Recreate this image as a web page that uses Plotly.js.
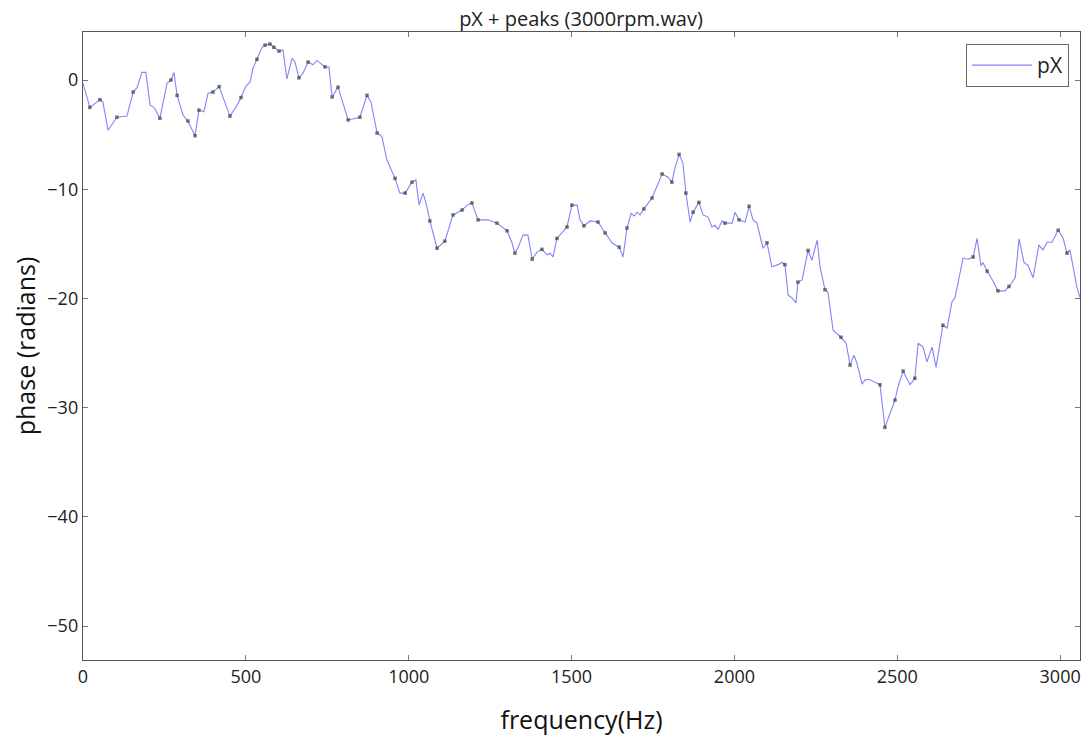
<!DOCTYPE html>
<html>
<head>
<meta charset="utf-8">
<script src="https://cdn.plot.ly/plotly-3.0.1.min.js"></script>
<style>
  html, body { margin: 0; padding: 0; background: #fff; }
  #chart { width: 1086px; height: 744px; }
</style>
</head>
<body>
<div id="chart"></div>
<script>
// Phase spectrum pX (radians) against frequency (Hz)
const freqHz = [0, 21, 52, 61, 77, 104, 135, 154, 166, 181, 193, 206, 218, 236, 258, 270, 279, 289, 307, 322,
  344, 356, 371, 384, 399, 418, 451, 473, 485, 500, 513, 522, 534, 550, 559, 574, 586, 602, 614, 626,
  642, 651, 663, 675, 691, 706, 718, 734, 743, 755, 765, 783, 798, 814, 832, 850, 872, 884, 903, 918,
  933, 958, 973, 989, 1010, 1022, 1032, 1044, 1053, 1065, 1087, 1111, 1136, 1164, 1179, 1194, 1213, 1243, 1271, 1302,
  1317, 1326, 1336, 1351, 1366, 1379, 1394, 1409, 1425, 1434, 1443, 1455, 1486, 1501, 1517, 1526, 1538, 1557, 1581, 1603,
  1624, 1646, 1658, 1670, 1683, 1692, 1701, 1710, 1722, 1747, 1762, 1778, 1796, 1808, 1818, 1830, 1842, 1851, 1864, 1873,
  1891, 1904, 1919, 1931, 1940, 1950, 1962, 1971, 1993, 2002, 2014, 2033, 2045, 2057, 2069, 2088, 2100, 2115, 2134, 2146,
  2155, 2165, 2177, 2189, 2195, 2208, 2226, 2238, 2254, 2263, 2278, 2287, 2303, 2315, 2327, 2343, 2355, 2367, 2376, 2392,
  2401, 2413, 2432, 2447, 2462, 2478, 2493, 2502, 2518, 2539, 2554, 2564, 2579, 2591, 2607, 2619, 2640, 2653, 2668, 2677,
  2702, 2717, 2733, 2745, 2757, 2763, 2776, 2794, 2809, 2831, 2843, 2862, 2874, 2889, 2901, 2917, 2935, 2947, 2960, 2975,
  2994, 3009, 3021, 3030, 3052, 3061];

const phaseRad = [-0.3, -2.5, -1.8, -2.0, -4.6, -3.4, -3.3, -1.1, -0.7, 0.7, 0.7, -2.3, -2.5, -3.5, -0.3, 0.0, 0.7, -1.4, -3.2, -3.75,
  -5.1, -2.75, -2.9, -1.2, -1.1, -0.6, -3.3, -2.3, -1.6, -0.55, -0.2, 1.1, 1.9, 3.0, 3.2, 3.3, 3.0, 2.65, 2.75, 0.1,
  2.0, 1.65, 0.2, 0.6, 1.65, 1.4, 1.8, 1.4, 1.2, 1.2, -1.55, -0.65, -2.0, -3.65, -3.55, -3.4, -1.4, -2.0, -4.85, -5.2,
  -7.3, -9.0, -10.35, -10.35, -9.35, -9.15, -11.45, -10.35, -11.25, -12.9, -15.4, -14.75, -12.35, -11.9, -11.45, -11.25, -12.8, -12.8, -13.1, -13.8,
  -14.9, -15.85, -15.3, -14.2, -14.2, -16.4, -15.75, -15.5, -16.0, -15.85, -16.2, -14.5, -13.45, -11.45, -11.45, -12.8, -13.35, -12.9, -13.0, -14.0,
  -14.9, -15.3, -16.2, -13.55, -12.2, -12.45, -12.1, -12.35, -11.8, -10.8, -9.8, -8.6, -8.9, -9.35, -8.0, -6.8, -7.6, -10.35, -13.0, -12.1,
  -11.2, -12.35, -12.55, -13.45, -13.3, -13.65, -12.9, -13.1, -13.1, -12.1, -12.8, -13.0, -11.55, -12.8, -13.1, -15.4, -14.9, -17.1, -16.9, -16.7,
  -16.9, -19.7, -19.95, -20.4, -18.5, -18.3, -15.6, -16.5, -14.65, -17.1, -19.2, -19.4, -22.9, -23.2, -23.55, -24.1, -26.1, -25.2, -25.9, -27.85,
  -27.45, -27.4, -27.65, -27.9, -31.8, -30.5, -29.3, -28.1, -26.65, -27.9, -27.3, -24.1, -24.45, -25.8, -24.45, -26.3, -22.45, -22.7, -20.3, -19.95,
  -16.3, -16.4, -16.2, -14.5, -17.0, -16.7, -17.5, -18.4, -19.3, -19.3, -18.9, -18.1, -14.55, -16.7, -16.95, -18.1, -15.1, -15.55, -14.85, -14.85,
  -13.75, -14.45, -15.85, -15.55, -19.05, -19.9];

// Detected peaks drawn on top of pX
const peakHz = [21, 52, 104, 154, 236, 270, 289, 322, 344, 356, 399, 418, 451, 485, 534, 559, 574, 586, 602, 663,
  691, 743, 765, 783, 814, 850, 872, 903, 958, 989, 1010, 1065, 1087, 1111, 1136, 1164, 1194, 1213, 1271, 1302,
  1326, 1379, 1409, 1455, 1486, 1501, 1538, 1581, 1603, 1646, 1670, 1722, 1747, 1778, 1808, 1830, 1851, 1873, 1891, 1971,
  2014, 2045, 2100, 2155, 2195, 2226, 2278, 2327, 2355, 2447, 2462, 2493, 2518, 2554, 2640, 2733, 2776, 2809, 2843, 2994, 3021];

const peakPhase = [-2.5, -1.8, -3.4, -1.1, -3.5, 0.0, -1.4, -3.75, -5.1, -2.75, -1.1, -0.6, -3.3, -1.6, 1.9, 3.2, 3.3, 3.0, 2.65, 0.2,
  1.65, 1.2, -1.55, -0.65, -3.65, -3.4, -1.4, -4.85, -9.0, -10.35, -9.35, -12.9, -15.4, -14.75, -12.35, -11.9, -11.25, -12.8, -13.1, -13.8,
  -15.85, -16.4, -15.5, -14.5, -13.45, -11.45, -13.35, -13.0, -14.0, -15.3, -13.55, -11.8, -10.8, -8.6, -9.35, -6.8, -10.35, -12.1, -11.2, -13.1,
  -12.8, -11.55, -14.9, -16.9, -18.5, -15.6, -19.2, -23.55, -26.1, -27.9, -31.8, -29.3, -26.65, -27.3, -22.45, -16.2, -17.5, -19.3, -18.9, -13.75, -15.85];

const xTicks = [0, 500, 1000, 1500, 2000, 2500, 3000];
const yTicks = [0, -10, -20, -30, -40, -50];

const LABEL_FONT = 'Open Sans, Noto Sans, sans-serif';

const traces = [
  {
    x: freqHz, y: phaseRad, type: 'scatter', mode: 'lines', name: 'pX',
    line: { color: 'rgba(100,100,250,0.8)', width: 1.1 },
    hoverinfo: 'x+y'
  },
  {
    x: peakHz, y: peakPhase, type: 'scatter', mode: 'markers', name: 'peaks',
    showlegend: false,
    marker: { color: 'rgba(50,70,50,0.7)', size: 3.5, symbol: 'square' },
    hoverinfo: 'x+y'
  }
];

const axisCommon = {
  showgrid: false, zeroline: false, showline: true, linecolor: '#555', linewidth: 1.2,
  mirror: 'ticks', ticks: 'inside', ticklen: 5, tickcolor: '#777', tickwidth: 1,
  tickfont: { family: LABEL_FONT, size: 18, color: '#222' }
};

const layout = {
  width: 1086, height: 744,
  margin: { l: 83, r: 6, t: 32, b: 84 },
  paper_bgcolor: '#fff', plot_bgcolor: '#fff',
  title: {
    text: 'pX + peaks (3000rpm.wav)',
    font: { family: LABEL_FONT, size: 20, color: '#222' },
    x: 0.535, xanchor: 'center', y: 0.974, yanchor: 'middle'
  },
  xaxis: Object.assign({}, axisCommon, {
    range: [0, 3061], tickmode: 'array', tickvals: xTicks,
    title: { text: 'frequency(Hz)', font: { family: LABEL_FONT, size: 25, color: '#111' }, standoff: 24 }
  }),
  yaxis: Object.assign({}, axisCommon, {
    range: [-53.1, 4.4], tickmode: 'array', tickvals: yTicks,
    title: { text: 'phase (radians)', font: { family: LABEL_FONT, size: 25, color: '#111' }, standoff: 4 }
  }),
  legend: {
    x: 0.989, y: 0.981, xanchor: 'right', yanchor: 'top',
    bgcolor: '#fff', bordercolor: '#666', borderwidth: 1,
    font: { family: LABEL_FONT, size: 21, color: '#222' },
    itemwidth: 60
  },
  showlegend: true
};

Plotly.newPlot('chart', traces, layout, { displayModeBar: false, staticPlot: true });
</script>
</body>
</html>
